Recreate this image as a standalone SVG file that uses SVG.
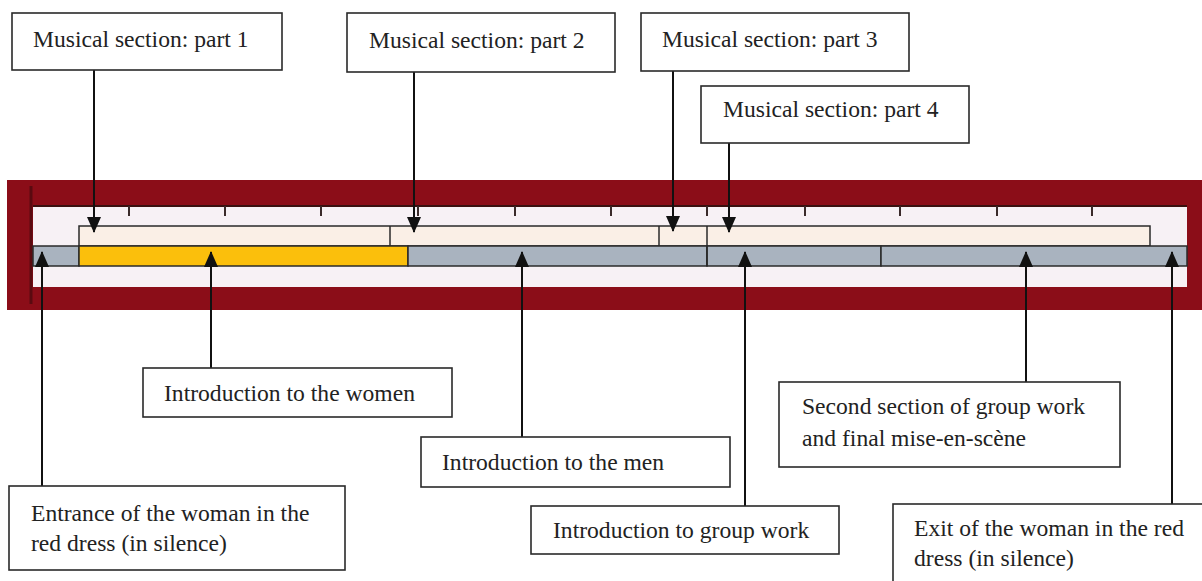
<svg xmlns="http://www.w3.org/2000/svg" width="1202" height="581" viewBox="0 0 1202 581">
<defs>
<style>
.box{fill:#fff;stroke:#2a2a2a;stroke-width:1.6}
.t{font-family:"Liberation Serif","Times New Roman",serif;font-size:23.6px;fill:#222}
.con{stroke:#111;stroke-width:2;fill:none}
.tick{stroke:#3a2a2a;stroke-width:2}
.cell{stroke:#2a2a2a;stroke-width:1.5}
</style>
<marker id="ah" viewBox="0 0 16 14" refX="15" refY="7" markerWidth="16" markerHeight="14" markerUnits="userSpaceOnUse" orient="auto">
<path d="M0,0 L16,7 L0,14 Z" fill="#111"/>
</marker>
</defs>
<rect width="1202" height="581" fill="#fff"/>

<g id="timeline">
<rect x="7" y="180" width="1195" height="130" fill="#8b0d18"/>
<rect x="33" y="206" width="1154" height="81" fill="#f7f1f5"/>
<line x1="31" y1="186" x2="31" y2="304" stroke="#5a0a10" stroke-width="3"/>
<line x1="33" y1="206" x2="1187" y2="206" stroke="#3a1010" stroke-width="2"/>
<g class="tick">
<line x1="129" y1="206" x2="129" y2="216"/>
<line x1="225" y1="206" x2="225" y2="216"/>
<line x1="321" y1="206" x2="321" y2="216"/>
<line x1="418" y1="206" x2="418" y2="216"/>
<line x1="515" y1="206" x2="515" y2="216"/>
<line x1="611" y1="206" x2="611" y2="216"/>
<line x1="707" y1="206" x2="707" y2="216"/>
<line x1="805" y1="206" x2="805" y2="216"/>
<line x1="900" y1="206" x2="900" y2="216"/>
<line x1="997" y1="206" x2="997" y2="216"/>
<line x1="1092" y1="206" x2="1092" y2="216"/>
</g>
<rect class="cell" x="79" y="226" width="1071" height="20" fill="#faefe6"/>
<line class="cell" x1="390" y1="226" x2="390" y2="246"/>
<line class="cell" x1="659" y1="226" x2="659" y2="246"/>
<rect class="cell" x="33" y="246" width="46" height="20" fill="#a9b3bf"/>
<rect class="cell" x="79" y="246" width="329" height="20" fill="#fbbf0c"/>
<rect class="cell" x="408" y="246" width="299" height="20" fill="#a9b3bf"/>
<rect class="cell" x="707" y="246" width="174" height="20" fill="#a9b3bf"/>
<rect class="cell" x="881" y="246" width="306" height="20" fill="#a9b3bf"/>
<line class="cell" x1="707" y1="226" x2="707" y2="266"/>
</g>

<g id="connectors">
<line class="con" x1="94" y1="70" x2="94" y2="232" marker-end="url(#ah)"/>
<line class="con" x1="414" y1="72" x2="414" y2="232" marker-end="url(#ah)"/>
<line class="con" x1="673" y1="71" x2="673" y2="231" marker-end="url(#ah)"/>
<line class="con" x1="729" y1="143" x2="729" y2="232" marker-end="url(#ah)"/>
<line class="con" x1="42" y1="486" x2="42" y2="252" marker-end="url(#ah)"/>
<line class="con" x1="211" y1="368" x2="211" y2="252" marker-end="url(#ah)"/>
<line class="con" x1="522" y1="437" x2="522" y2="252" marker-end="url(#ah)"/>
<line class="con" x1="745" y1="506" x2="745" y2="252" marker-end="url(#ah)"/>
<line class="con" x1="1026" y1="382" x2="1026" y2="252" marker-end="url(#ah)"/>
<line class="con" x1="1172" y1="504" x2="1172" y2="252" marker-end="url(#ah)"/>
</g>

<g id="ms1"><rect class="box" x="12" y="13" width="270" height="57"/><text class="t" x="33" y="47">Musical section: part 1</text></g>
<g id="ms2"><rect class="box" x="347" y="13" width="268" height="59"/><text class="t" x="369" y="48">Musical section: part 2</text></g>
<g id="ms3"><rect class="box" x="641" y="13" width="268" height="58"/><text class="t" x="662" y="47">Musical section: part 3</text></g>
<g id="ms4"><rect class="box" x="701" y="86" width="268" height="57"/><text class="t" x="723" y="117">Musical section: part 4</text></g>

<g id="women"><rect class="box" x="143" y="368" width="309" height="49"/><text class="t" x="164" y="401">Introduction to the women</text></g>
<g id="men"><rect class="box" x="421" y="437" width="309" height="50"/><text class="t" x="442" y="470">Introduction to the men</text></g>
<g id="group"><rect class="box" x="531" y="506" width="308" height="48"/><text class="t" x="553" y="538">Introduction to group work</text></g>
<g id="entrance"><rect class="box" x="9" y="486" width="336" height="84"/><text class="t" x="31" y="521">Entrance of the woman in the</text><text class="t" x="31" y="551">red dress (in silence)</text></g>
<g id="second"><rect class="box" x="779" y="382" width="341" height="85"/><text class="t" x="802" y="414">Second section of group work</text><text class="t" x="802" y="446">and final mise-en-scène</text></g>
<g id="exit"><rect class="box" x="893" y="504" width="320" height="90"/><text class="t" x="914" y="536">Exit of the woman in the red</text><text class="t" x="914" y="566">dress (in silence)</text></g>
</svg>
